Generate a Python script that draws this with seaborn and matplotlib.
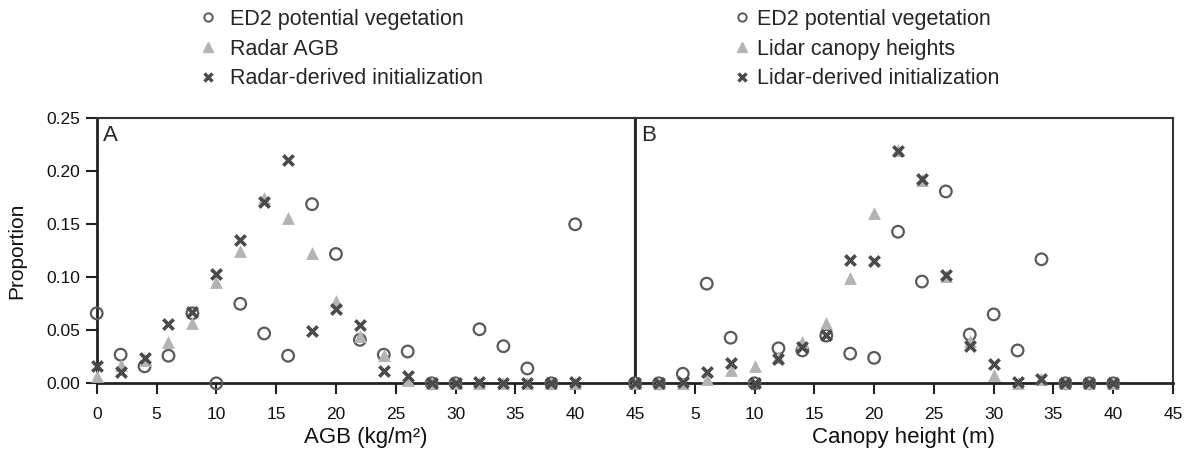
import numpy as np
import pandas as pd
import matplotlib
matplotlib.use("Agg")
import matplotlib.pyplot as plt
import seaborn as sns
from matplotlib.lines import Line2D

# ---------------- data ----------------
agb_x = [0, 2, 4, 6, 8, 10, 12, 14, 16, 18, 20, 22, 24, 26, 28, 30, 32, 34, 36, 38, 40, 45]
agb_ed2 = [0.066, 0.027, 0.016, 0.026, 0.066, 0.0, 0.075, 0.047, 0.026, 0.169, 0.122, 0.041,
           0.027, 0.030, 0.0, 0.0, 0.051, 0.035, 0.014, 0.0, 0.150, 0.0]
agb_radar = [0.007, 0.017, 0.022, 0.039, 0.057, 0.096, 0.125, 0.175, 0.156, 0.123, 0.078, 0.045,
             0.027, 0.003, 0.0, 0.0, 0.0, 0.0, 0.0, 0.0, 0.0, 0.0]
agb_init = [0.016, 0.011, 0.024, 0.056, 0.067, 0.103, 0.135, 0.171, 0.211, 0.049, 0.070, 0.055,
            0.012, 0.007, 0.0, 0.0, 0.001, 0.0, 0.0, 0.0, 0.001, 0.0]

hgt_x = [0, 2, 4, 6, 8, 10, 12, 14, 16, 18, 20, 22, 24, 26, 28, 30, 32, 34, 36, 38, 40]
hgt_ed2 = [0.0, 0.0, 0.009, 0.094, 0.043, 0.0, 0.033, 0.031, 0.045, 0.028, 0.024, 0.143,
           0.096, 0.181, 0.046, 0.065, 0.031, 0.117, 0.0, 0.0, 0.0]
hgt_lidar = [0.0, 0.0, 0.0, 0.004, 0.013, 0.016, 0.025, 0.039, 0.057, 0.099, 0.161, 0.220,
             0.192, 0.101, 0.040, 0.008, 0.0, 0.004, 0.0, 0.0, 0.0]
hgt_init = [0.0, 0.0, 0.001, 0.011, 0.019, 0.0, 0.023, 0.034, 0.046, 0.116, 0.115, 0.219,
            0.193, 0.102, 0.035, 0.018, 0.001, 0.004, 0.0, 0.0, 0.0]

labels_a = ["ED2 potential vegetation", "Radar AGB", "Radar-derived initialization"]
labels_b = ["ED2 potential vegetation", "Lidar canopy heights", "Lidar-derived initialization"]
x_ticks = [0, 5, 10, 15, 20, 25, 30, 35, 40, 45]
y_ticks = [0.00, 0.05, 0.10, 0.15, 0.20, 0.25]

# ---------------- style ----------------
sns.set_theme(style="white")
plt.rcParams["font.family"] = ["Liberation Sans", "DejaVu Sans"]

C_CIRC = "#5a5a5a"
C_TRI = "#b3b3b3"
C_X = "#4a4a4a"

W, H = 1187, 450
fig = plt.figure(figsize=(W / 100, H / 100), dpi=100)
axA = fig.add_axes([96.7 / W, 1 - 383.3 / H, (635 - 96.7) / W, 265 / H])
axB = fig.add_axes([635 / W, 1 - 383.3 / H, (1173 - 635) / W, 265 / H])


def draw(ax, xs, ed2, mid, init):
    df = pd.DataFrame({"x": xs, "ed2": ed2, "mid": mid, "init": init})
    sns.scatterplot(data=df, x="x", y="ed2", ax=ax, marker="o", s=70,
                    facecolors="none", edgecolor=C_CIRC, linewidth=1.6, clip_on=False, zorder=3)
    sns.scatterplot(data=df, x="x", y="mid", ax=ax, marker="^", s=85,
                    color=C_TRI, edgecolor=C_TRI, linewidth=0, clip_on=False, zorder=4)
    sns.scatterplot(data=df, x="x", y="init", ax=ax, marker="x", s=55,
                    color=C_X, linewidth=2.6, clip_on=False, zorder=5)
    ax.set_xlim(0, 45)
    ax.set_ylim(0, 0.25)
    ax.set_xticks(x_ticks)
    ax.set_yticks(y_ticks)
    ax.tick_params(axis="both", direction="out", length=8, width=1.5, color="#222222",
                   labelsize=12.5, pad=4, bottom=True, left=True, labelcolor="#111111")
    ax.tick_params(axis="x", pad=9)
    for s in ["left", "bottom"]:
        ax.spines[s].set_linewidth(2.0)
        ax.spines[s].set_color("#222222")
    for s in ["top", "right"]:
        ax.spines[s].set_linewidth(1.5)
        ax.spines[s].set_color("#333333")


draw(axA, agb_x, agb_ed2, agb_radar, agb_init)
draw(axB, hgt_x, hgt_ed2, hgt_lidar, hgt_init)

axA.set_yticklabels([f"{v:.2f}" for v in y_ticks])
axA.set_xticklabels([str(v) for v in x_ticks])
axB.set_yticklabels([])
axB.tick_params(axis="y", left=False)
axB.set_xticklabels([""] + [str(v) for v in x_ticks[1:]])

axA.set_xlabel("AGB (kg/m²)", fontsize=16, labelpad=4, color="#111111")
axB.set_xlabel("Canopy height (m)", fontsize=16, labelpad=4, color="#111111")
axA.set_ylabel("Proportion", fontsize=15, labelpad=14, color="#111111")
axB.set_ylabel("")

axA.text(0.012, 0.975, "A", transform=axA.transAxes, fontsize=16, va="top", ha="left")
axB.text(0.012, 0.975, "B", transform=axB.transAxes, fontsize=16, va="top", ha="left")


def handles(lbls):
    return [
        Line2D([], [], ls="none", marker="o", markersize=6.0, markerfacecolor="none",
               markeredgecolor=C_CIRC, markeredgewidth=1.4, label=lbls[0]),
        Line2D([], [], ls="none", marker="^", markersize=7.5, color=C_TRI, label=lbls[1]),
        Line2D([], [], ls="none", marker="x", markersize=6.0, color=C_X,
               markeredgewidth=2.4, label=lbls[2]),
    ]


fig.legend(handles=handles(labels_a), loc="upper left",
           bbox_to_anchor=(197.6 / W, 1 - 9 / H), frameon=False, fontsize=15.5,
           handletextpad=0.5, labelspacing=0.4, handlelength=1.0,
           borderpad=0, borderaxespad=0)
fig.legend(handles=handles(labels_b), loc="upper left",
           bbox_to_anchor=(731.6 / W, 1 - 9 / H), frameon=False, fontsize=15.5,
           handletextpad=0.2, labelspacing=0.4, handlelength=1.0,
           borderpad=0, borderaxespad=0)

fig.savefig("out.png", dpi=100)
